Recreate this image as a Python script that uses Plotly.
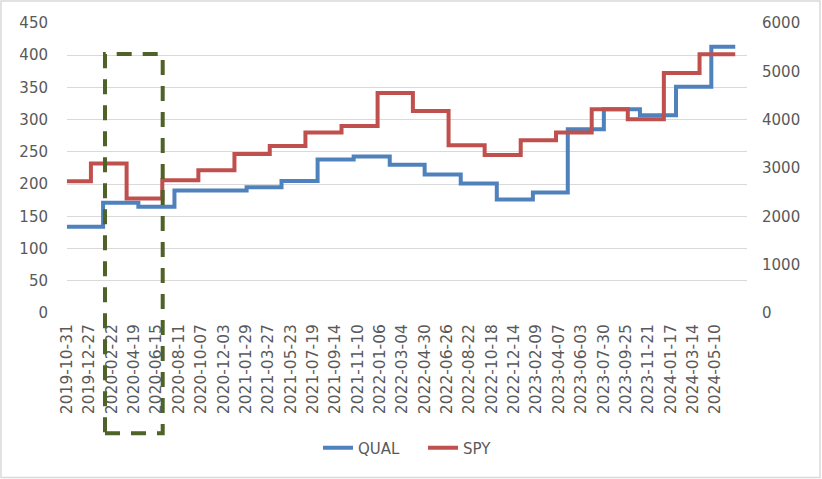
import plotly.graph_objects as go

# ---- data ----
qual_dates = ["2019-10-31", "2020-01-31", "2020-04-30", "2020-07-31", "2020-10-31",
              "2021-01-31", "2021-04-30", "2021-07-31", "2021-10-31", "2022-01-31",
              "2022-04-30", "2022-07-31", "2022-10-31", "2023-01-31", "2023-04-30",
              "2023-07-31", "2023-10-31", "2024-01-31", "2024-04-30", "2024-06-30"]
qual_values = [134, 171, 165, 190, 190, 195, 205, 238, 243, 230,
               215, 201, 176, 187, 285, 316, 307, 351, 413, 413]

spy_dates = ["2019-10-31", "2019-12-31", "2020-03-31", "2020-06-30", "2020-09-30",
             "2020-12-31", "2021-03-31", "2021-06-30", "2021-09-30", "2021-12-31",
             "2022-03-31", "2022-06-30", "2022-09-30", "2022-12-31", "2023-03-31",
             "2023-06-30", "2023-09-30", "2023-12-31", "2024-03-31", "2024-06-30"]
spy_values = [2725, 3091, 2367, 2746, 2952, 3290, 3455, 3732, 3869, 4552,
              4180, 3470, 3269, 3573, 3732, 4215, 4008, 4966, 5353, 5353]

tick_labels = ["2019-10-31", "2019-12-27", "2020-02-22", "2020-04-19", "2020-06-15",
               "2020-08-11", "2020-10-07", "2020-12-03", "2021-01-29", "2021-03-27",
               "2021-05-23", "2021-07-19", "2021-09-14", "2021-11-10", "2022-01-06",
               "2022-03-04", "2022-04-30", "2022-06-26", "2022-08-22", "2022-10-18",
               "2022-12-14", "2023-02-09", "2023-04-07", "2023-06-03", "2023-07-30",
               "2023-09-25", "2023-11-21", "2024-01-17", "2024-03-14", "2024-05-10"]

FONT = "DejaVu Sans"
TXT = "#595959"
GRID = "#D9D9D9"

fig = go.Figure()
fig.add_trace(go.Scatter(x=qual_dates, y=qual_values, name="QUAL", mode="lines",
                         line=dict(color="#4F81BD", width=4, shape="hv"), yaxis="y"))
fig.add_trace(go.Scatter(x=spy_dates, y=spy_values, name="SPY", mode="lines",
                         line=dict(color="#C0504D", width=4, shape="hv"), yaxis="y2"))

L, R, T, B = 67, 75, 23, 166
W, H = 822, 479
pw, ph = W - L - R, H - T - B


def px(xp):
    return (xp - L) / pw


def py(yp):
    return (H - B - yp) / ph


fig.update_layout(
    width=W, height=H,
    margin=dict(l=L, r=R, t=T, b=B),
    paper_bgcolor="white", plot_bgcolor="white",
    font=dict(family=FONT, size=15, color=TXT),
    showlegend=True,
    legend=dict(orientation="h", x=px(318), xanchor="left", y=py(448), yanchor="middle",
                entrywidth=60, entrywidthmode="pixels",
                font=dict(family=FONT, size=15, color=TXT), bgcolor="rgba(0,0,0,0)"),
    xaxis=dict(type="date", range=["2019-10-31", "2024-07-30"],
               tickvals=tick_labels, ticktext=tick_labels, tickangle=-90,
               showgrid=False, zeroline=False, showline=False, ticks="",
               ticklabelstandoff=7,
               tickfont=dict(family=FONT, size=15.5, color=TXT)),
    yaxis=dict(range=[0, 450], dtick=50, showgrid=True, gridcolor=GRID, gridwidth=1.3,
               zeroline=False, showline=False, ticks="", ticklabelstandoff=18,
               tickfont=dict(family=FONT, size=15, color=TXT)),
    yaxis2=dict(range=[0, 6000], dtick=1000, overlaying="y", side="right",
                showgrid=False, zeroline=False, showline=False, ticks="",
                ticklabelstandoff=14,
                tickfont=dict(family=FONT, size=15, color=TXT)),
)

# dashed highlight box
fig.add_shape(type="rect", xref="paper", yref="paper",
              x0=px(105), x1=px(162.7), y0=py(433.3), y1=py(54),
              line=dict(color="#4F6228", width=4, dash="15px,11px"),
              fillcolor="rgba(0,0,0,0)", layer="above")

# chart border
fig.add_shape(type="rect", xref="paper", yref="paper",
              x0=px(1), x1=px(820), y0=py(477.5), y1=py(1),
              line=dict(color="#D9D9D9", width=1.5), fillcolor="rgba(0,0,0,0)", layer="below")

fig.write_html("out.html")
